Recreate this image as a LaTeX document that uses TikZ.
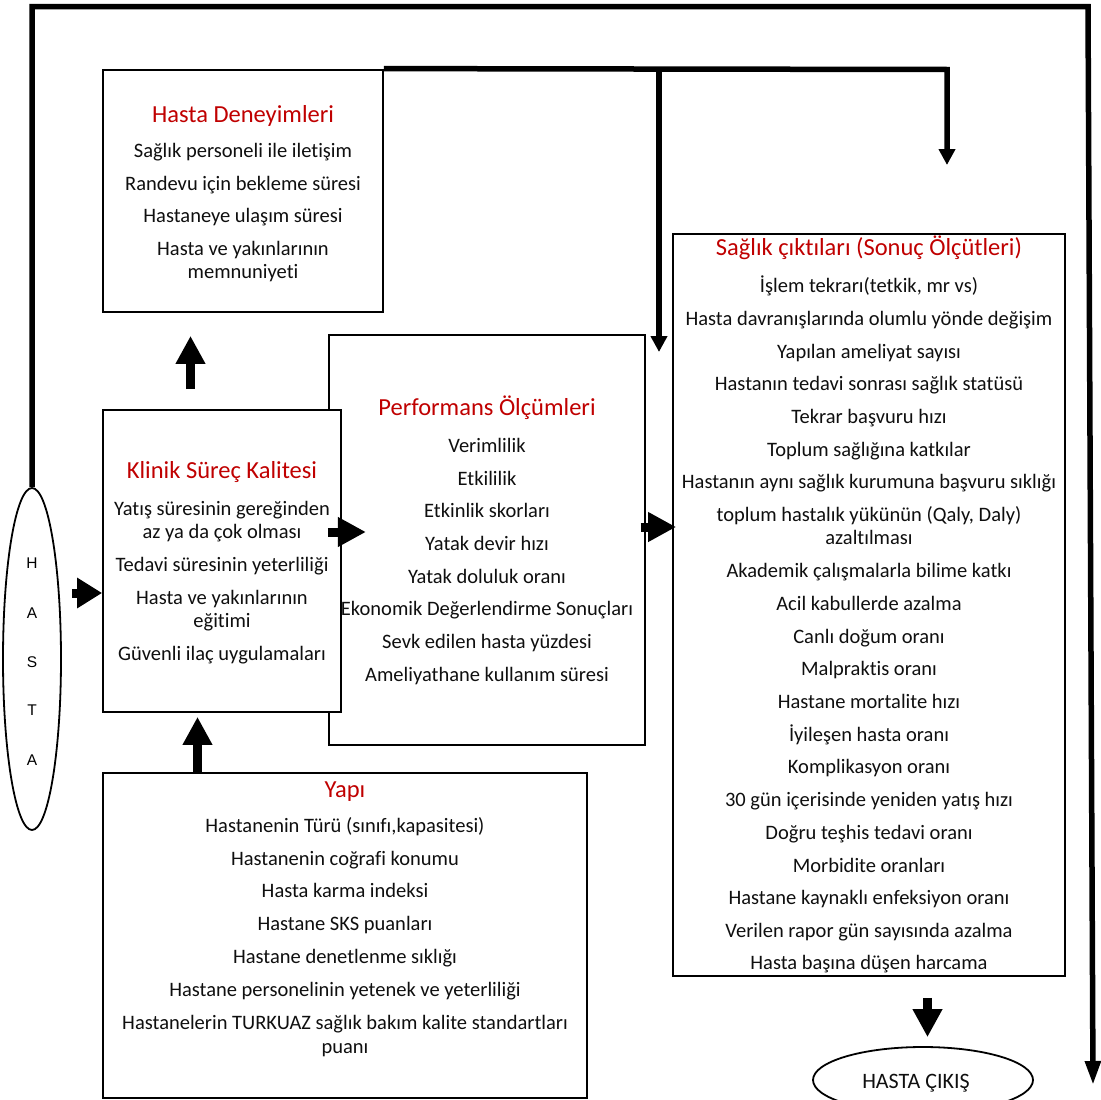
\documentclass[tikz,border=0pt]{standalone}
\usepackage{fontspec}
\setmainfont{Carlito}[Ligatures=NoCommon]
\newfontfamily\lettersfont{Liberation Sans}
\usetikzlibrary{arrows.meta,shapes.geometric}
\definecolor{titlered}{RGB}{192,0,0}
\definecolor{inkgray}{RGB}{15,15,15}
\begin{document}
\begin{tikzpicture}[x=1pt,y=-1pt,
  box/.style={draw,line width=1.8pt,fill=white,inner sep=0pt},
  oval/.style={draw,ellipse,line width=1.8pt,inner sep=0pt},
  item/.style={font=\fontsize{20.5}{23}\selectfont,text=inkgray,anchor=base,inner sep=0pt},
  heading/.style={font=\fontsize{24.5}{28}\selectfont,text=titlered,anchor=base,inner sep=0pt},
  letter/.style={font=\lettersfont\fontsize{15.5}{18}\selectfont,anchor=base,inner sep=0pt},
  blockarrow/.style={line width=9pt,-{Triangle[width=28pt,length=28pt]}},
  feedline/.style={line width=5.5pt,line join=miter},
  feedarrow/.style={feedline,-{Triangle[width=16pt,length=16pt]}},
  longfeedarrow/.style={feedline,-{Triangle[width=15pt,length=24pt]}}]
\useasboundingbox (0,0) rectangle (1101,1100);

% boxes (Klinik drawn after Performans so it covers its left edge)
\node[box,minimum width=280,minimum height=242] (hd) at (243,191) {};
\node[box,minimum width=316,minimum height=410] (pf) at (487,540) {};
\node[box,minimum width=238,minimum height=302] (kl) at (222,561) {};
\node[box,minimum width=392,minimum height=742] (sg) at (869,605) {};
\node[box,minimum width=484,minimum height=325] (yp) at (345,935.5) {};

% patient entry and exit
\node[oval,minimum width=58,minimum height=342] (hasta) at (32,659) {};
\foreach \yy/\txt [count=\i] in {568/H,618/A,667/S,715/T,765/A}
  \node[letter] (hl\i) at (32,\yy) {\txt};
\node[oval,minimum width=220,minimum height=66] (exit) at (923,1080) {};
\node[item,font=\fontsize{22}{25}\selectfont] (exittxt) at (916,1088) {HASTA ÇIKIŞ};

% Hasta Deneyimleri
\node[heading] (hdt) at (243,122) {Hasta Deneyimleri};
\foreach \yy/\txt [count=\i] in {157/{Sağlık personeli ile iletişim},190/{Randevu için bekleme süresi},
  222/{Hastaneye ulaşım süresi},255/{Hasta ve yakınlarının},278/{memnuniyeti}}
  \node[item] (hdl\i) at (243,\yy) {\txt};

% Klinik Süreç Kalitesi
\node[heading] (klt) at (222,478) {Klinik Süreç Kalitesi};
\foreach \yy/\txt [count=\i] in {515/{Yatış süresinin gereğinden},538/{az ya da çok olması},
  571/{Tedavi süresinin yeterliliği},604/{Hasta ve yakınlarının},627/{eğitimi},
  660/{Güvenli ilaç uygulamaları}}
  \node[item] (kll\i) at (222,\yy) {\txt};

% Performans Ölçümleri
\node[heading] (pft) at (487,415) {Performans Ölçümleri};
\foreach \yy/\txt [count=\i] in {452/{Verimlilik},485/{Etkililik},517/{Etkinlik skorları},
  550/{Yatak devir hızı},583/{Yatak doluluk oranı},615/{Ekonomik Değerlendirme Sonuçları},
  648/{Sevk edilen hasta yüzdesi},681/{Ameliyathane kullanım süresi}}
  \node[item] (pfl\i) at (487,\yy) {\txt};

% Sağlık çıktıları
\node[heading] (sgt) at (869,255) {Sağlık çıktıları (Sonuç Ölçütleri)};
\foreach \yy/\txt [count=\i] in {292/{İşlem tekrarı(tetkik, mr vs)},
  325/{Hasta davranışlarında olumlu yönde değişim},358/{Yapılan ameliyat sayısı},
  390/{Hastanın tedavi sonrası sağlık statüsü},423/{Tekrar başvuru hızı},
  456/{Toplum sağlığına katkılar},488/{Hastanın aynı sağlık kurumuna başvuru sıklığı},
  521/{toplum hastalık yükünün (Qaly, Daly)},544/{azaltılması},
  577/{Akademik çalışmalarla bilime katkı},610/{Acil kabullerde azalma},
  643/{Canlı doğum oranı},675/{Malpraktis oranı},708/{Hastane mortalite hızı},
  741/{İyileşen hasta oranı},773/{Komplikasyon oranı},
  806/{30 gün içerisinde yeniden yatış hızı},839/{Doğru teşhis tedavi oranı},
  872/{Morbidite oranları},904/{Hastane kaynaklı enfeksiyon oranı},
  937/{Verilen rapor gün sayısında azalma},969/{Hasta başına düşen harcama}}
  \node[item] (sgl\i) at (869,\yy) {\txt};

% Yapı
\node[heading] (ypt) at (345,797) {Yapı};
\foreach \yy/\txt [count=\i] in {832/{Hastanenin Türü (sınıfı,kapasitesi)},
  865/{Hastanenin coğrafi konumu},897/{Hasta karma indeksi},930/{Hastane SKS puanları},
  963/{Hastane denetlenme sıklığı},996/{Hastane personelinin yetenek ve yeterliliği},
  1029/{Hastanelerin TURKUAZ sağlık bakım kalite standartları},1053/{puanı}}
  \node[item] (ypl\i) at (345,\yy) {\txt};

% block arrows between the stages
\draw[blockarrow] ([xshift=-31.5pt,yshift=20pt]kl.north) -- ([xshift=-52.5pt,yshift=-23pt]hd.south);
\draw[blockarrow] ([xshift=-147.5pt]yp.north) -- ([xshift=-24.5pt,yshift=-4pt]kl.south);
\draw[blockarrow,-{Triangle[width=29pt,length=25pt]}] ([xshift=-30pt,yshift=-32pt]kl.west) -- ([yshift=-32pt]kl.west);
\draw[blockarrow] ([xshift=-14pt,yshift=29pt]kl.east) -- ([xshift=24pt,yshift=29pt]kl.east);
\draw[blockarrow] ([xshift=-5pt,yshift=13pt]pf.east) -- ([xshift=4pt,yshift=78pt]sg.west);
\draw[blockarrow] ([xshift=58.5pt,yshift=-21pt]sg.south) -- ([xshift=4.5pt,yshift=9pt]exit.north);

% feedback lines
\coordinate (topleft) at (32,6.5);
\coordinate (topright) at (1088,6.5);
\coordinate (loopend) at (1093,1085);
\draw[longfeedarrow] (hasta.north) -- (topleft) -- (topright) -- (loopend);

\coordinate (branch) at (659,69.5);
\coordinate (branchend) at (659,352);
\coordinate (corner) at (947,69.5);
\coordinate (cornerend) at (947,165);
\draw[feedarrow] ([yshift=0.5pt]hd.north east) -- (corner) -- (cornerend);
\draw[feedarrow] (branch) -- (branchend);
\end{tikzpicture}
\end{document}
